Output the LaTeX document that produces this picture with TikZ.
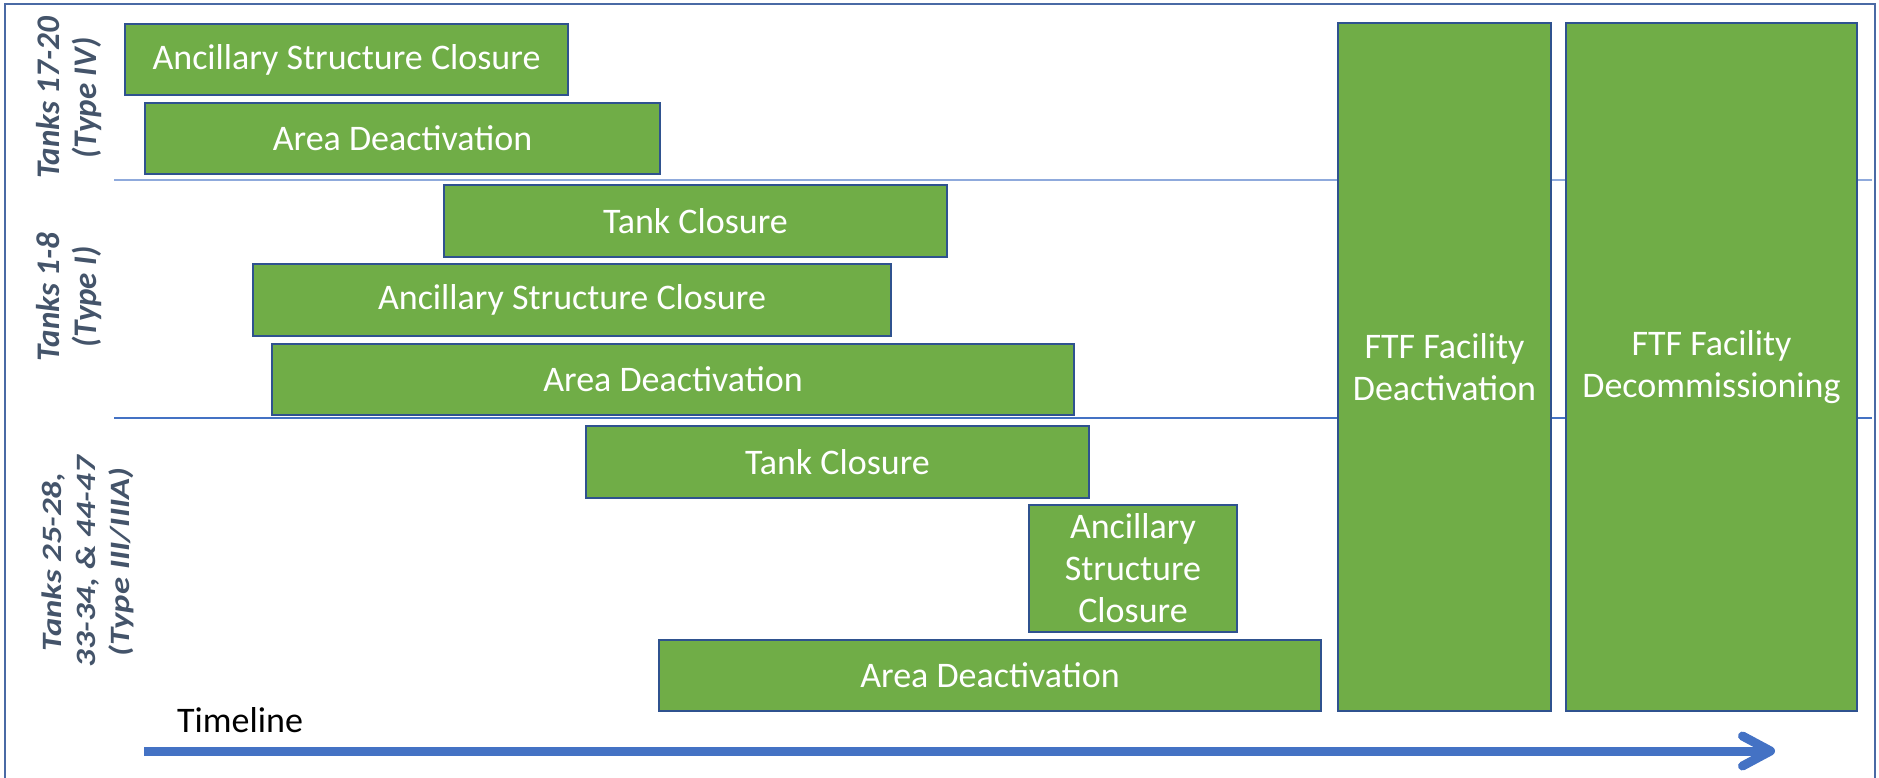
\documentclass[tikz,border=0pt]{standalone}
\usepackage{fontspec}
\setmainfont{Carlito}
\usetikzlibrary{arrows.meta}
\definecolor{boxgreen}{HTML}{70AD47}
\definecolor{boxedge}{HTML}{2F528F}
\definecolor{sepA}{HTML}{8FAADC}
\definecolor{sepB}{HTML}{4472C4}
\definecolor{framec}{HTML}{4A6AA5}
\definecolor{labelc}{HTML}{44546A}
\definecolor{arrowc}{HTML}{4472C4}
\begin{document}
\begin{tikzpicture}[x=1pt,y=-1pt,
  bar/.style={draw=boxedge, line width=2pt, fill=boxgreen, text=white,
    font=\fontsize{36}{42}\selectfont, align=center, inner sep=0pt, anchor=north west},
  grp/.style={rotate=90, text=labelc, font=\fontsize{33}{37}\selectfont\bfseries\itshape,
    align=center, inner sep=0pt},
  sep/.style={line width=1.5pt}
]
\useasboundingbox (0,0) rectangle (1879,778);
% frame
\coordinate (fa) at (5,780); \coordinate (fb) at (5,4);
\coordinate (fc) at (1875,4); \coordinate (fd) at (1875,780);
\draw[framec, line width=2pt] (fa) -- (fb) -- (fc) -- (fd);
% separators
\coordinate (s1a) at (114,180); \coordinate (s1b) at (1872,180);
\coordinate (s2a) at (114,418); \coordinate (s2b) at (1872,418);
\draw[sep, sepA] (s1a) -- (s1b);
\draw[sep, sepB] (s2a) -- (s2b);
% group labels
\node[grp] (g1) at (69,98) {Tanks 17-20\\(Type IV)};
\node[grp] (g2) at (69,297) {Tanks 1-8\\(Type I)};
\node[grp, font=\fontsize{28}{34}\selectfont\bfseries\itshape] (g3) at (88,562)
  {\scalebox{1.24}[1]{Tanks 25-28,}\\\scalebox{1.24}[1]{33-34, \& 44-47}\\\scalebox{1.24}[1]{(Type III/IIIA)}};
% bars
\node[bar, minimum width=443pt, minimum height=71pt] (a1) at (124,23) {Ancillary Structure Closure};
\node[bar, minimum width=515pt, minimum height=71pt] (a2) at (144,102) {Area Deactivation};
\node[bar, minimum width=503pt, minimum height=72pt] (b1) at (443,184) {Tank Closure};
\node[bar, minimum width=638pt, minimum height=72pt] (b2) at (252,263) {Ancillary Structure Closure};
\node[bar, minimum width=802pt, minimum height=71pt] (b3) at (271,343) {Area Deactivation};
\node[bar, minimum width=503pt, minimum height=72pt] (c1) at (585,425) {Tank Closure};
\node[bar, minimum width=208pt, minimum height=127pt] (c2) at (1028,504) {Ancillary\\Structure\\Closure};
\node[bar, minimum width=662pt, minimum height=71pt] (c3) at (658,639) {Area Deactivation};
\node[bar, minimum width=213pt, minimum height=688pt] (f1) at (1337,22) {FTF Facility\\Deactivation};
\node[bar, minimum width=291pt, minimum height=688pt] (f2) at (1565,22) {FTF Facility\\Decommissioning};
% timeline
\node[anchor=base west, font=\fontsize{36}{42}\selectfont, inner sep=0pt] (tl) at (177,732) {Timeline};
\coordinate (t0) at (144,751); \coordinate (t1) at (1775,751);
\draw[arrowc, line width=9pt, -{Straight Barb[length=28pt, width=30pt, round]}] (t0) -- (t1);
\end{tikzpicture}
\end{document}
